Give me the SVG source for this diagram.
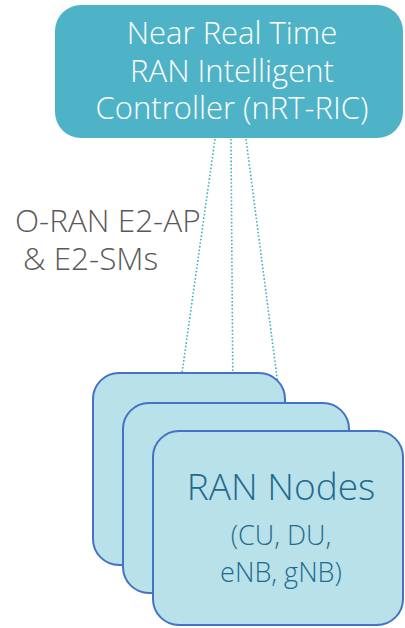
<svg xmlns="http://www.w3.org/2000/svg" width="405" height="628" viewBox="0 0 405 628">
<style>
.ric{fill:#4fb3c7}
.ric-t{font-family:"Open Sans","DejaVu Sans",sans-serif;font-size:31px;font-weight:300;fill:#ffffff;text-anchor:middle}
.node{fill:#b9e1e9;stroke:#4472c4;stroke-width:2}
.node-t{font-family:"Open Sans","DejaVu Sans",sans-serif;font-weight:300;fill:#1e6b8f;text-anchor:middle}
.lbl{font-family:"Open Sans","DejaVu Sans",sans-serif;font-size:31.5px;font-weight:300;fill:#595959}
.conn{stroke:#3fb0c6;stroke-width:1.6;stroke-dasharray:1.6 2;fill:none}
</style>
<rect width="405" height="628" fill="#ffffff"/>
<g id="ric">
<rect class="ric" x="55" y="5" width="348" height="133" rx="26"/>
<text class="ric-t" x="232" y="44">Near Real Time</text>
<text class="ric-t" x="232" y="82">RAN Intelligent</text>
<text class="ric-t" x="232" y="119">Controller (nRT-RIC)</text>
</g>
<g id="label">
<text class="lbl" x="15" y="232">O-RAN E2-AP</text>
<text class="lbl" x="23" y="270">&amp; E2-SMs</text>
</g>
<g id="connectors">
<line class="conn" x1="215" y1="139" x2="182" y2="373"/>
<line class="conn" x1="231" y1="139" x2="233" y2="403"/>
<line class="conn" x1="246" y1="139" x2="284" y2="431"/>
</g>
<g id="node1">
<rect class="node" x="93" y="373" width="192" height="192" rx="26"/>
</g>
<g id="node2">
<rect class="node" x="123" y="403" width="226" height="190" rx="26"/>
</g>
<g id="node3">
<rect class="node" x="153" y="431" width="250" height="194" rx="26"/>
<text class="node-t" x="281" y="500" font-size="37">RAN Nodes</text>
<text class="node-t" x="281" y="545" font-size="27">(CU, DU,</text>
<text class="node-t" x="281" y="582" font-size="27">eNB, gNB)</text>
</g>
</svg>
